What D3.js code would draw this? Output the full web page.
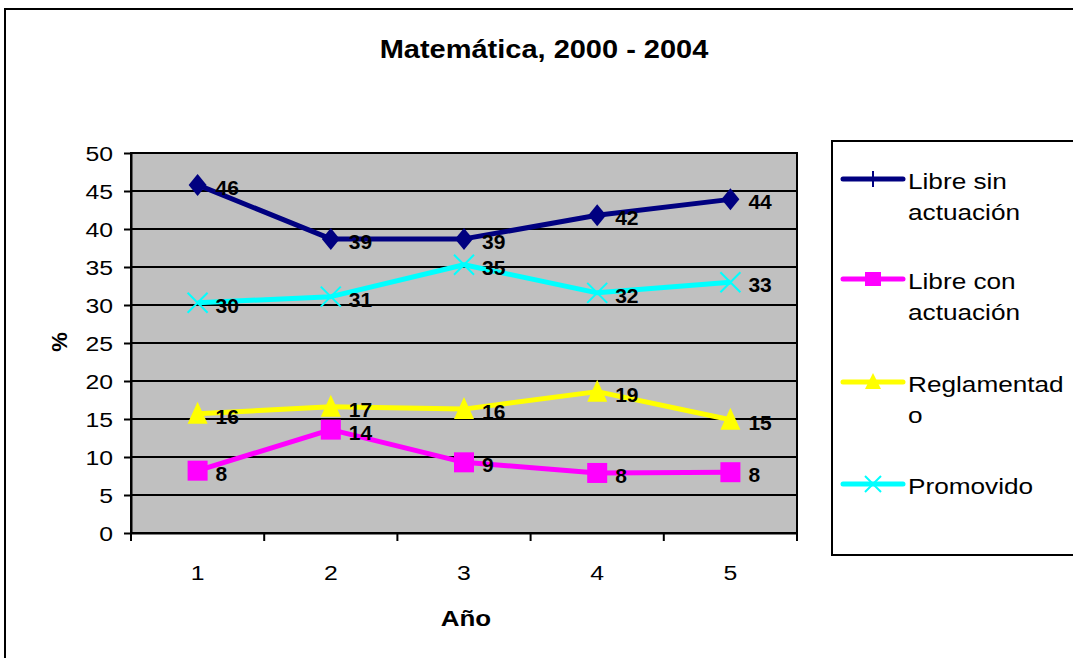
<!DOCTYPE html>
<html>
<head>
<meta charset="utf-8">
<script src="https://cdn.jsdelivr.net/npm/d3@7"></script>
<style>
  body { margin: 0; background: #fff; }
  text { font-family: "Liberation Sans", Arial, sans-serif; }
</style>
</head>
<body>
<script>
// data
var years = [1, 2, 3, 4, 5];
var libreSin = [45.8, 38.7, 38.7, 41.8, 43.9];
var libreCon = [8.2, 13.6, 9.3, 7.9, 8.0];
var reglamentado = [15.7, 16.6, 16.3, 18.6, 14.9];
var promovido = [30.3, 31.1, 35.3, 31.6, 33.0];
var yTicks = [0, 5, 10, 15, 20, 25, 30, 35, 40, 45, 50];

var seriesNames = [["Libre sin", "actuación"], ["Libre con", "actuación"], ["Reglamentad", "o"], ["Promovido"]];
var seriesColors = ["#000080", "#FF00FF", "#FFFF00", "#00FFFF"];
var seriesMarkers = ["diamond", "square", "triangle", "x"];
var legendMarkers = ["plus", "square", "triangle", "x"];
var seriesValues = [libreSin, libreCon, reglamentado, promovido];

//svg size
var svgWidth = 1073;
var svgHeight = 658;

//plot area
var plot = { left: 131, right: 797, top: 153, bottom: 533 };

var svg = d3.select("body")
  .append("svg")
  .attr("width", svgWidth)
  .attr("height", svgHeight);

//the picture's text is a bit wider than normal Arial, stretch it sideways
function stretch(sel, sx) {
  sel.each(function() {
    var t = d3.select(this);
    var x = +t.attr("x") || 0;
    var y = +t.attr("y") || 0;
    t.attr("x", 0).attr("y", 0)
      .attr("transform", `translate(${x}, ${y}) scale(${sx}, 1)`);
  });
}

//outer frame
svg.append("rect")
  .attr("x", 5).attr("y", 9)
  .attr("width", svgWidth + 20).attr("height", svgHeight + 20)
  .attr("fill", "#fff")
  .attr("stroke", "#000")
  .attr("stroke-width", 2);

//title
svg.append("text")
  .attr("x", 544).attr("y", 58)
  .attr("text-anchor", "middle")
  .style("font-size", "25px")
  .style("font-weight", "bold")
  .text("Matemática, 2000 - 2004")
  .call(stretch, 1.16);

//scales
var xScale = d3.scaleBand()
  .domain(years)
  .range([plot.left, plot.right])
  .padding(0);

var yScale = d3.scaleLinear()
  .domain([0, 50])
  .range([plot.bottom, plot.top]);

var cx = d => xScale(d) + xScale.bandwidth() / 2;

//plot background
svg.append("rect")
  .attr("x", plot.left).attr("y", plot.top)
  .attr("width", plot.right - plot.left)
  .attr("height", plot.bottom - plot.top)
  .attr("fill", "#C0C0C0")
  .attr("stroke", "#000")
  .attr("stroke-width", 2);

//gridlines
svg.append("g")
  .selectAll("line")
  .data(yTicks.filter(t => t > 0 && t < 50))
  .enter()
  .append("line")
  .attr("x1", plot.left).attr("x2", plot.right)
  .attr("y1", d => yScale(d)).attr("y2", d => yScale(d))
  .attr("stroke", "#000")
  .attr("stroke-width", 2);

//y axis
var leftAxis = d3.axisLeft(yScale)
  .tickValues(yTicks)
  .tickSize(7)
  .tickPadding(11)
  .tickSizeOuter(0);

var yAxis = svg.append("g")
  .attr("transform", `translate(${plot.left}, 0)`)
  .call(leftAxis);
yAxis.select(".domain").attr("stroke-width", 2);
yAxis.selectAll(".tick line").attr("stroke-width", 2);
yAxis.selectAll("text")
  .style("font-size", "21px")
  .style("font-family", "'Liberation Sans', Arial, sans-serif")
  .attr("fill", "#000")
  .attr("dy", "0.36em")
  .call(stretch, 1.18);

//x axis (labels centered in bands, ticks between categories)
var bottomAxis = d3.axisBottom(xScale)
  .tickSize(0)
  .tickPadding(32)
  .tickSizeOuter(0);

var xAxis = svg.append("g")
  .attr("transform", `translate(0, ${plot.bottom})`)
  .call(bottomAxis);
xAxis.select(".domain").attr("stroke-width", 2);
xAxis.selectAll("text")
  .style("font-size", "21px")
  .style("font-family", "'Liberation Sans', Arial, sans-serif")
  .attr("fill", "#000")
  .call(stretch, 1.18);

var tickEdges = years.map(d => xScale(d)).concat([plot.right]);
svg.append("g")
  .selectAll("line")
  .data(tickEdges)
  .enter()
  .append("line")
  .attr("x1", d => d).attr("x2", d => d)
  .attr("y1", plot.bottom).attr("y2", plot.bottom + 8)
  .attr("stroke", "#000")
  .attr("stroke-width", 2);

//axis titles
svg.append("text")
  .attr("transform", `translate(67, 342) rotate(-90)`)
  .attr("text-anchor", "middle")
  .style("font-size", "22px")
  .style("font-weight", "bold")
  .text("%");

svg.append("text")
  .attr("x", 466).attr("y", 626)
  .attr("text-anchor", "middle")
  .style("font-size", "22px")
  .style("font-weight", "bold")
  .text("Año")
  .call(stretch, 1.18);

//marker drawing
function drawMarker(g, type, x, y, color, big) {
  if (type === "diamond") {
    g.append("path")
      .attr("d", `M${x},${y - 11}L${x + 9},${y}L${x},${y + 11}L${x - 9},${y}Z`)
      .attr("fill", color);
  } else if (type === "square") {
    var s = big ? 20 : 16;
    var h = big ? 20 : 14;
    g.append("rect")
      .attr("x", x - s / 2).attr("y", y - h / 2)
      .attr("width", s).attr("height", h)
      .attr("fill", color);
  } else if (type === "triangle") {
    var w = big ? 20 : 16;
    var t = big ? 20 : 14;
    g.append("path")
      .attr("d", `M${x},${y - t / 2 - 2}L${x + w / 2},${y + t / 2}L${x - w / 2},${y + t / 2}Z`)
      .attr("fill", color);
  } else if (type === "x") {
    var r = big ? 10 : 8;
    g.append("path")
      .attr("d", `M${x - r},${y - r}L${x + r},${y + r}M${x - r},${y + r}L${x + r},${y - r}`)
      .attr("stroke", color)
      .attr("stroke-width", 2);
  } else if (type === "plus") {
    g.append("path")
      .attr("d", `M${x},${y - 8}L${x},${y + 8}`)
      .attr("stroke", color)
      .attr("stroke-width", 2);
  }
}

//lines, markers and data labels
var line = d3.line()
  .x((d, i) => cx(years[i]))
  .y(d => yScale(d));

var fmt = d3.format(".0f");

seriesValues.forEach(function(vals, si) {
  var g = svg.append("g");
  g.append("path")
    .attr("d", line(vals))
    .attr("fill", "none")
    .attr("stroke", seriesColors[si])
    .attr("stroke-width", 5)
    .attr("stroke-linejoin", "round");
  vals.forEach(function(v, i) {
    drawMarker(g, seriesMarkers[si], cx(years[i]), yScale(v), seriesColors[si], true);
  });
});

seriesValues.forEach(function(vals, si) {
  svg.append("g")
    .selectAll("text")
    .data(vals)
    .enter()
    .append("text")
    .attr("x", (d, i) => cx(years[i]) + 18)
    .attr("y", d => yScale(d) + 10)
    .style("font-size", "21px")
    .style("font-weight", "bold")
    .text(d => fmt(d));
});

//legend
svg.append("rect")
  .attr("x", 832).attr("y", 141)
  .attr("width", 300).attr("height", 414)
  .attr("fill", "#fff")
  .attr("stroke", "#000")
  .attr("stroke-width", 2);

var legendY = [179, 279, 382, 484];
seriesNames.forEach(function(name, si) {
  var g = svg.append("g");
  var y = legendY[si];
  g.append("line")
    .attr("x1", 843).attr("x2", 903)
    .attr("y1", y).attr("y2", y)
    .attr("stroke", seriesColors[si])
    .attr("stroke-width", 5)
    .attr("stroke-linecap", "round");
  drawMarker(g, legendMarkers[si], 873, y, seriesColors[si], false);
  name.forEach(function(t, li) {
    g.append("text")
      .attr("x", 908)
      .attr("y", y + 10 + li * 31)
      .style("font-size", "22px")
      .text(t)
      .call(stretch, 1.19);
  });
});
</script>
</body>
</html>
